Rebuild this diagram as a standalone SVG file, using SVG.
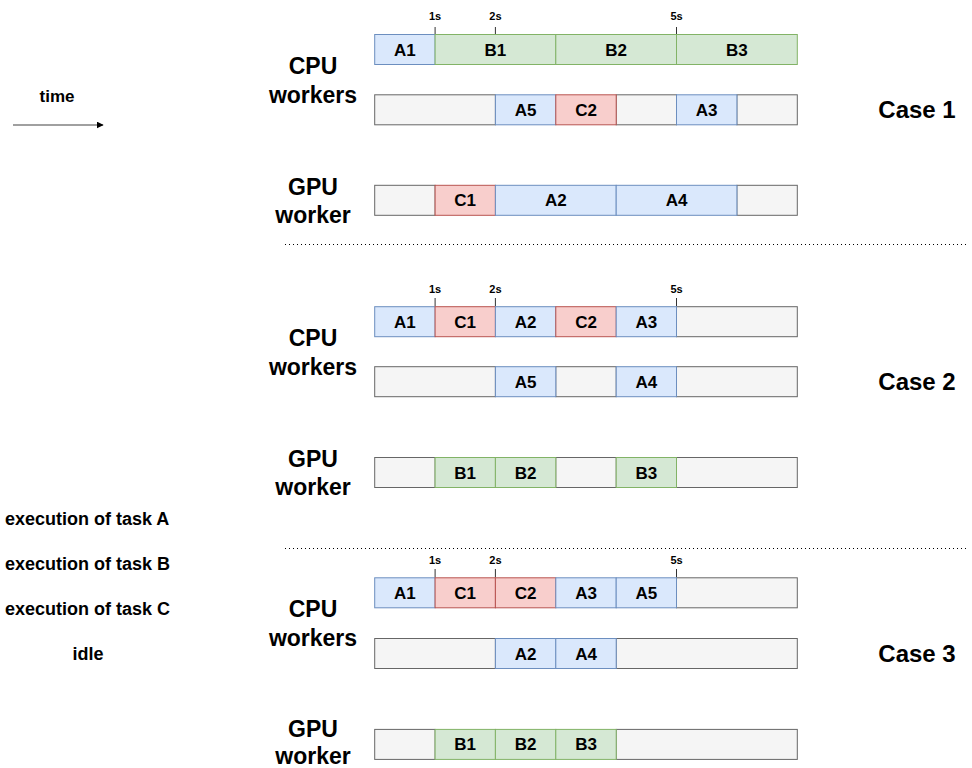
<svg xmlns="http://www.w3.org/2000/svg" width="972" height="768" viewBox="0 0 972 768">
  <style>
    text { font-family: "Liberation Sans", Arial, Helvetica, sans-serif; font-weight: bold; fill: #000; }
    .a { fill: #dae8fc; stroke: #6c8ebf; stroke-width: 1; }
    .b { fill: #d5e8d4; stroke: #82b366; stroke-width: 1; }
    .c { fill: #f8cecc; stroke: #b85450; stroke-width: 1; }
    .idle { fill: #f5f5f5; stroke: #666666; stroke-width: 1; }
    .cell { font-size: 17px; text-anchor: middle; }
    .tick { stroke: #333333; stroke-width: 1; }
    .tlabel { font-size: 11px; text-anchor: middle; }
    .worker { font-size: 23px; text-anchor: middle; }
    .case { font-size: 24px; text-anchor: middle; }
    .legend { font-size: 18px; }
    .sep { stroke: #000000; stroke-width: 1; stroke-dasharray: 1 3; fill: none; }
  </style>
  <defs>
    <marker id="arrow" viewBox="0 0 10 10" refX="9" refY="5" markerWidth="7" markerHeight="7" markerUnits="userSpaceOnUse" orient="auto">
      <path d="M0,0 L10,5 L0,10 Z" fill="#000"/>
    </marker>
  </defs>
  <rect width="972" height="768" fill="#ffffff"/>

  <!-- legend / time axis -->
  <g id="time-label"><text x="57" y="101.5" style="font-size:17px" text-anchor="middle">time</text></g>
  <g id="connectors">
    <line x1="13" y1="125" x2="103" y2="125" stroke="#808080" stroke-width="1.3" marker-end="url(#arrow)"/>
    <line class="sep" x1="285" y1="244.5" x2="968" y2="244.5"/>
    <line class="sep" x1="285" y1="548.5" x2="968" y2="548.5"/>
  </g>
  <g id="legend">
    <text class="legend" x="5" y="525">execution of task A</text>
    <text class="legend" x="5" y="569.5">execution of task B</text>
    <text class="legend" x="5" y="614.5">execution of task C</text>
    <text class="legend" x="88" y="660" text-anchor="middle">idle</text>
  </g>

  <!-- Case 1 -->
  <g id="case1">
    <g id="case1-ticks">
      <line class="tick" x1="435.1" y1="27" x2="435.1" y2="34.5"/>
      <line class="tick" x1="495.4" y1="27" x2="495.4" y2="34.5"/>
      <line class="tick" x1="676.5" y1="27" x2="676.5" y2="34.5"/>
      <text class="tlabel" x="435.1" y="20">1s</text>
      <text class="tlabel" x="495.4" y="20">2s</text>
      <text class="tlabel" x="676.5" y="20">5s</text>
    </g>
    <g id="case1-cpu-label"><text class="worker" x="313" y="74">CPU</text><text class="worker" x="313" y="103">workers</text></g>
    <g id="case1-gpu-label"><text class="worker" x="313" y="195">GPU</text><text class="worker" x="313" y="223">worker</text></g>
    <g id="case1-title"><text class="case" x="917" y="118">Case 1</text></g>
    <!-- CPU row 1 -->
    <g id="c1-r1-A1"><rect class="a" x="374.7" y="34.5" width="60.4" height="30"/><text class="cell" x="404.9" y="55.5">A1</text></g>
    <g id="c1-r1-B1"><rect class="b" x="435.1" y="34.5" width="120.7" height="30"/><text class="cell" x="495.4" y="55.5">B1</text></g>
    <g id="c1-r1-B2"><rect class="b" x="555.8" y="34.5" width="120.7" height="30"/><text class="cell" x="616.2" y="55.5">B2</text></g>
    <g id="c1-r1-B3"><rect class="b" x="676.5" y="34.5" width="120.8" height="30"/><text class="cell" x="736.9" y="55.5">B3</text></g>
    <!-- CPU row 2 -->
    <g id="c1-r2-idle1"><rect class="idle" x="374.7" y="94.8" width="120.7" height="30"/></g>
    <g id="c1-r2-idle2"><rect class="idle" x="616.2" y="94.8" width="60.3" height="30"/></g>
    <g id="c1-r2-idle3"><rect class="idle" x="736.9" y="94.8" width="60.4" height="30"/></g>
    <g id="c1-r2-A5"><rect class="a" x="495.4" y="94.8" width="60.4" height="30"/><text class="cell" x="525.6" y="115.8">A5</text></g>
    <g id="c1-r2-C2"><rect class="c" x="555.8" y="94.8" width="60.4" height="30"/><text class="cell" x="586" y="115.8">C2</text></g>
    <g id="c1-r2-A3"><rect class="a" x="676.5" y="94.8" width="60.4" height="30"/><text class="cell" x="706.7" y="115.8">A3</text></g>
    <!-- GPU row -->
    <g id="c1-g-idle1"><rect class="idle" x="374.7" y="185.3" width="60.4" height="30"/></g>
    <g id="c1-g-idle2"><rect class="idle" x="736.9" y="185.3" width="60.4" height="30"/></g>
    <g id="c1-g-C1"><rect class="c" x="435.1" y="185.3" width="60.3" height="30"/><text class="cell" x="465.2" y="206.3">C1</text></g>
    <g id="c1-g-A2"><rect class="a" x="495.4" y="185.3" width="120.8" height="30"/><text class="cell" x="555.8" y="206.3">A2</text></g>
    <g id="c1-g-A4"><rect class="a" x="616.2" y="185.3" width="120.7" height="30"/><text class="cell" x="676.5" y="206.3">A4</text></g>
  </g>

  <!-- Case 2 -->
  <g id="case2">
    <g id="case2-ticks">
      <line class="tick" x1="435.1" y1="298" x2="435.1" y2="306.7"/>
      <line class="tick" x1="495.4" y1="298" x2="495.4" y2="306.7"/>
      <line class="tick" x1="676.5" y1="298" x2="676.5" y2="306.7"/>
      <text class="tlabel" x="435.1" y="293">1s</text>
      <text class="tlabel" x="495.4" y="293">2s</text>
      <text class="tlabel" x="676.5" y="293">5s</text>
    </g>
    <g id="case2-cpu-label"><text class="worker" x="313" y="346">CPU</text><text class="worker" x="313" y="375">workers</text></g>
    <g id="case2-gpu-label"><text class="worker" x="313" y="467">GPU</text><text class="worker" x="313" y="495">worker</text></g>
    <g id="case2-title"><text class="case" x="917" y="390">Case 2</text></g>
    <!-- CPU row 1 -->
    <g id="c2-r1-idle"><rect class="idle" x="676.5" y="306.7" width="120.8" height="30"/></g>
    <g id="c2-r1-A1"><rect class="a" x="374.7" y="306.7" width="60.4" height="30"/><text class="cell" x="404.9" y="327.7">A1</text></g>
    <g id="c2-r1-C1"><rect class="c" x="435.1" y="306.7" width="60.3" height="30"/><text class="cell" x="465.2" y="327.7">C1</text></g>
    <g id="c2-r1-A2"><rect class="a" x="495.4" y="306.7" width="60.4" height="30"/><text class="cell" x="525.6" y="327.7">A2</text></g>
    <g id="c2-r1-C2"><rect class="c" x="555.8" y="306.7" width="60.4" height="30"/><text class="cell" x="586" y="327.7">C2</text></g>
    <g id="c2-r1-A3"><rect class="a" x="616.2" y="306.7" width="60.3" height="30"/><text class="cell" x="646.3" y="327.7">A3</text></g>
    <!-- CPU row 2 -->
    <g id="c2-r2-idle1"><rect class="idle" x="374.7" y="366.7" width="120.7" height="30"/></g>
    <g id="c2-r2-idle2"><rect class="idle" x="555.8" y="366.7" width="60.4" height="30"/></g>
    <g id="c2-r2-idle3"><rect class="idle" x="676.5" y="366.7" width="120.8" height="30"/></g>
    <g id="c2-r2-A5"><rect class="a" x="495.4" y="366.7" width="60.4" height="30"/><text class="cell" x="525.6" y="387.7">A5</text></g>
    <g id="c2-r2-A4"><rect class="a" x="616.2" y="366.7" width="60.3" height="30"/><text class="cell" x="646.3" y="387.7">A4</text></g>
    <!-- GPU row -->
    <g id="c2-g-idle1"><rect class="idle" x="374.7" y="457.5" width="60.4" height="30"/></g>
    <g id="c2-g-idle2"><rect class="idle" x="555.8" y="457.5" width="60.4" height="30"/></g>
    <g id="c2-g-idle3"><rect class="idle" x="676.5" y="457.5" width="120.8" height="30"/></g>
    <g id="c2-g-B1"><rect class="b" x="435.1" y="457.5" width="60.3" height="30"/><text class="cell" x="465.2" y="478.5">B1</text></g>
    <g id="c2-g-B2"><rect class="b" x="495.4" y="457.5" width="60.4" height="30"/><text class="cell" x="525.6" y="478.5">B2</text></g>
    <g id="c2-g-B3"><rect class="b" x="616.2" y="457.5" width="60.3" height="30"/><text class="cell" x="646.3" y="478.5">B3</text></g>
  </g>

  <!-- Case 3 -->
  <g id="case3">
    <g id="case3-ticks">
      <line class="tick" x1="435.1" y1="569" x2="435.1" y2="577.8"/>
      <line class="tick" x1="495.4" y1="569" x2="495.4" y2="577.8"/>
      <line class="tick" x1="676.5" y1="569" x2="676.5" y2="577.8"/>
      <text class="tlabel" x="435.1" y="564">1s</text>
      <text class="tlabel" x="495.4" y="564">2s</text>
      <text class="tlabel" x="676.5" y="564">5s</text>
    </g>
    <g id="case3-cpu-label"><text class="worker" x="313" y="617">CPU</text><text class="worker" x="313" y="646">workers</text></g>
    <g id="case3-gpu-label"><text class="worker" x="313" y="737">GPU</text><text class="worker" x="313" y="764">worker</text></g>
    <g id="case3-title"><text class="case" x="917" y="662">Case 3</text></g>
    <!-- CPU row 1 -->
    <g id="c3-r1-idle"><rect class="idle" x="676.5" y="577.8" width="120.8" height="30"/></g>
    <g id="c3-r1-A1"><rect class="a" x="374.7" y="577.8" width="60.4" height="30"/><text class="cell" x="404.9" y="598.8">A1</text></g>
    <g id="c3-r1-C1"><rect class="c" x="435.1" y="577.8" width="60.3" height="30"/><text class="cell" x="465.2" y="598.8">C1</text></g>
    <g id="c3-r1-C2"><rect class="c" x="495.4" y="577.8" width="60.4" height="30"/><text class="cell" x="525.6" y="598.8">C2</text></g>
    <g id="c3-r1-A3"><rect class="a" x="555.8" y="577.8" width="60.4" height="30"/><text class="cell" x="586" y="598.8">A3</text></g>
    <g id="c3-r1-A5"><rect class="a" x="616.2" y="577.8" width="60.3" height="30"/><text class="cell" x="646.3" y="598.8">A5</text></g>
    <!-- CPU row 2 -->
    <g id="c3-r2-idle1"><rect class="idle" x="374.7" y="638.5" width="120.7" height="30"/></g>
    <g id="c3-r2-idle2"><rect class="idle" x="616.2" y="638.5" width="181.1" height="30"/></g>
    <g id="c3-r2-A2"><rect class="a" x="495.4" y="638.5" width="60.4" height="30"/><text class="cell" x="525.6" y="659.5">A2</text></g>
    <g id="c3-r2-A4"><rect class="a" x="555.8" y="638.5" width="60.4" height="30"/><text class="cell" x="586" y="659.5">A4</text></g>
    <!-- GPU row -->
    <g id="c3-g-idle1"><rect class="idle" x="374.7" y="729.4" width="60.4" height="30"/></g>
    <g id="c3-g-idle2"><rect class="idle" x="616.2" y="729.4" width="181.1" height="30"/></g>
    <g id="c3-g-B1"><rect class="b" x="435.1" y="729.4" width="60.3" height="30"/><text class="cell" x="465.2" y="750.4">B1</text></g>
    <g id="c3-g-B2"><rect class="b" x="495.4" y="729.4" width="60.4" height="30"/><text class="cell" x="525.6" y="750.4">B2</text></g>
    <g id="c3-g-B3"><rect class="b" x="555.8" y="729.4" width="60.4" height="30"/><text class="cell" x="586" y="750.4">B3</text></g>
  </g>
</svg>
